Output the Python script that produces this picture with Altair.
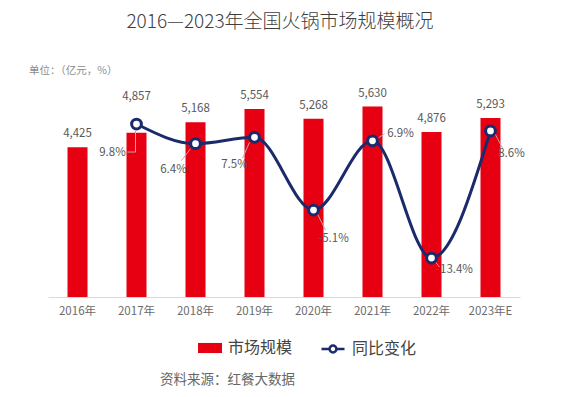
import altair as alt
import pandas as pd

# ---------------- data ----------------
years = ["2016年", "2017年", "2018年", "2019年", "2020年", "2021年", "2022年", "2023年E"]
market_size = [4425, 4857, 5168, 5554, 5268, 5630, 4876, 5293]
yoy_change = [None, 9.8, 6.4, 7.5, -5.1, 6.9, -13.4, 8.6]

title_text = "2016—2023年全国火锅市场规模概况"
unit_text = "单位：（亿元，%）"
source_text = "资料来源：红餐大数据"
bar_series = "市场规模"
line_series = "同比变化"

# ---------------- style ----------------
FONT = "Noto Sans CJK SC"
RED = "#e60012"
NAVY = "#1b2a6b"
LABEL = "#595959"
LEADER = "#c9a7aa"
W, H = 472, 203

df = pd.DataFrame({"year": years, "size": market_size, "yoy": yoy_change})
df["size_label"] = [f"{v:,}" for v in market_size]
df["yoy_label"] = ["" if v is None else f"{v:.1f}%" for v in yoy_change]
df["s1"] = bar_series
df["s2"] = line_series

x_scale = alt.Scale(paddingInner=0, paddingOuter=0)
x_enc = alt.X(
    "year:N", sort=years, title=None, scale=x_scale,
    axis=alt.Axis(labelAngle=0, ticks=False, grid=False, domainColor="#d9d9d9",
                  labelColor="#6b6b6b", labelFontSize=11.5, labelFont=FONT,
                  labelPadding=8),
)
y_bar = alt.Y("size:Q", scale=alt.Scale(domain=[0, 6000], nice=False), axis=None)
y_line = alt.Y("yoy:Q", scale=alt.Scale(domain=[-20.15, 15], nice=False, zero=False), axis=None)

base = alt.Chart(df)

bars = base.mark_bar(size=20).encode(
    x=x_enc, y=y_bar,
    fill=alt.Fill("s1:N", scale=alt.Scale(domain=[bar_series], range=[RED]),
                  legend=alt.Legend(title=None, orient="none", legendX=150, legendY=242,
                                    symbolType="M-1,-0.42H1V0.42H-1Z", symbolSize=576,
                                    symbolStrokeWidth=0, labelFontSize=16, labelFont=FONT,
                                    labelColor="#444444", labelOffset=6)),
)

bar_labels = base.transform_filter(alt.datum.year != "2017年").mark_text(
    dy=-13, fontSize=11.5, font=FONT, color=LABEL, baseline="middle"
).encode(x=x_enc, y=y_bar, text="size_label:N")
bar_label_2017 = base.transform_filter(alt.datum.year == "2017年").mark_text(
    dy=-36, fontSize=11.5, font=FONT, color=LABEL, baseline="middle"
).encode(x=x_enc, y=y_bar, text="size_label:N")

line_base = base.transform_filter("isValid(datum.yoy)")
line = line_base.mark_line(strokeWidth=3, interpolate="monotone").encode(
    x=x_enc, y=y_line,
    stroke=alt.Stroke("s2:N", scale=alt.Scale(domain=[line_series], range=[NAVY]),
                      legend=alt.Legend(title=None, orient="none", legendX=272, legendY=242,
                                        symbolType="M-1,0H-0.3M0.3,0H1M0.3,0A0.3,0.3,0,1,1,-0.3,0A0.3,0.3,0,1,1,0.3,0",
                                        symbolSize=529, symbolStrokeWidth=2.5,
                                        symbolFillColor="white", labelFontSize=16,
                                        labelFont=FONT, labelColor="#444444", labelOffset=6)),
)

points = line_base.mark_point(filled=True, fill="white", stroke=NAVY, strokeWidth=3,
                              size=95, opacity=1).encode(x=x_enc, y=y_line)

# leader lines and labels for the growth values (offsets are pure styling)
leader_offsets = {
    "2017年": [((-1, 7), (-1, 28)), ((-1, 28), (-9, 28))],
    "2018年": [((-5, 5), (-14, 17))],
    "2019年": [((-5, 5), (-12, 21))],
    "2020年": [((4, 4), (12, 20))],
    "2021年": [((6, -3), (12, -7))],
    "2022年": [((4, 4), (8, 9))],
    "2023年E": [((4, 2), (12, 17))],
}
label_offsets = {
    "2017年": (-24, 29), "2018年": (-22, 26), "2019年": (-20, 28), "2020年": (20, 29),
    "2021年": (28, -7), "2022年": (23, 12), "2023年E": (21, 23),
}

leaders = []
for yr, segs in leader_offsets.items():
    for (a, b), (c, d) in segs:
        leaders.append(
            line_base.transform_filter(alt.datum.year == yr).mark_rule(
                color=LEADER, strokeWidth=1, xOffset=a, yOffset=b, x2Offset=c, y2Offset=d
            ).encode(x=x_enc, x2=alt.X2("year:N"), y=y_line, y2=alt.Y2("yoy:Q"))
        )

pct_labels = []
for yr, (dx, dy) in label_offsets.items():
    pct_labels.append(
        line_base.transform_filter(alt.datum.year == yr).mark_text(
            dx=dx, dy=dy, fontSize=11.5, font=FONT, color=LABEL, baseline="middle", align="center"
        ).encode(x=x_enc, y=y_line, text="yoy_label:N")
    )

# text annotations
unit = alt.Chart(pd.DataFrame({"t": [unit_text]})).mark_text(
    fontSize=10.5, font=FONT, color="#8c8c8c", align="left", baseline="middle"
).encode(x=alt.value(-19), y=alt.value(-23.5), text="t:N")
source = alt.Chart(pd.DataFrame({"t": [source_text]})).mark_text(
    fontSize=13.5, font=FONT, color="#666666", align="left", baseline="middle"
).encode(x=alt.value(112), y=alt.value(286), text="t:N")

chart = alt.layer(
    bars, bar_labels, bar_label_2017, line, *leaders, points, *pct_labels, unit, source
).resolve_scale(y="independent").properties(
    width=W, height=H,
    title=alt.TitleParams(title_text, fontSize=19, font=FONT, color="#3d3d3d",
                          fontWeight=300, anchor="middle", frame="group",
                          baseline="middle", offset=25, dx=-4),
    autosize=alt.AutoSizeParams(type="none"),
    padding={"left": 40, "top": 86, "right": 36, "bottom": 92},
    background="white",
).configure_view(stroke=None)

chart.save("out.html", embed_options={"renderer": "svg", "actions": False})
